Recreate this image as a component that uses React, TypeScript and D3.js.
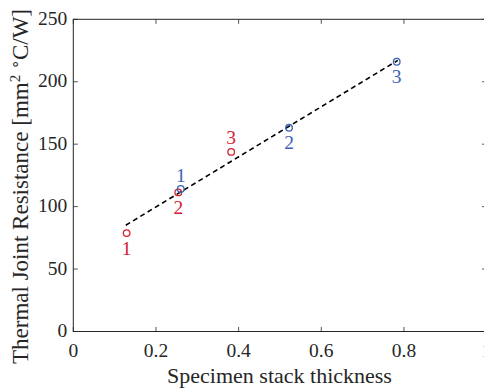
import React from "react";
import * as d3 from "d3";

const redX = [0.129, 0.254, 0.382];
const redY = [78.8, 111.4, 143.8];
const redLabels = ["1", "2", "3"];
const redAbove = [false, false, true];

const blueX = [0.26, 0.522, 0.7825];
const blueY = [114.1, 163.1, 216];
const blueLabels = ["1", "2", "3"];
const blueAbove = [true, false, false];

const fitX = [0.127, 0.785];
const fitY = [85.1, 217.1];

const xTicks = [0, 0.2, 0.4, 0.6, 0.8, 1];
const yTicks = [0, 50, 100, 150, 200, 250];

const RED = "#d42132";
const BLUE = "#3d62b3";
const FONT = "'Liberation Serif', 'Times New Roman', serif";

export default function App() {
  const W = 484, H = 390;
  const L = 73.3, R = 486.6, T = 19.3, B = 331.5;
  const x = d3.scaleLinear().domain([0, 1]).range([L, R]);
  const y = d3.scaleLinear().domain([0, 250]).range([B, T]);
  const line = d3.line<[number, number]>().x(d => x(d[0])).y(d => y(d[1]));
  const fitPts: [number, number][] = fitX.map((v, i) => [v, fitY[i]]);
  const tl = 4.5;
  const axisColor = "#262626";

  const series = [
    { xs: redX, ys: redY, labels: redLabels, above: redAbove, color: RED },
    { xs: blueX, ys: blueY, labels: blueLabels, above: blueAbove, color: BLUE },
  ];

  return (
    <svg width={W} height={H} style={{ position: "absolute", left: 0, top: 0, background: "#fff" }}>
      <rect x={0} y={0} width={W} height={H} fill="#fff" />
      {xTicks.map(t => (
        <g key={"xt" + t}>
          <line x1={x(t)} x2={x(t)} y1={B} y2={B - tl} stroke={axisColor} strokeWidth={0.8} />
          <line x1={x(t)} x2={x(t)} y1={T} y2={T + tl} stroke={axisColor} strokeWidth={0.8} />
          <text x={x(t)} y={357} textAnchor="middle" fontFamily={FONT} fontSize={19.5} fill="#262626">{String(t)}</text>
        </g>
      ))}
      {yTicks.map(t => (
        <g key={"yt" + t}>
          <line x1={L} x2={L + tl} y1={y(t)} y2={y(t)} stroke={axisColor} strokeWidth={0.8} />
          <line x1={R} x2={R - tl} y1={y(t)} y2={y(t)} stroke={axisColor} strokeWidth={0.8} />
          <text x={L - 6} y={y(t) + 5.5} textAnchor="end" fontFamily={FONT} fontSize={19.5} fill="#262626">{String(t)}</text>
        </g>
      ))}
      <rect x={L} y={T} width={R - L} height={B - T} fill="none" stroke={axisColor} strokeWidth={1} />
      <path d={line(fitPts) || ""} fill="none" stroke="#000" strokeWidth={1.6} strokeDasharray="5,3.5" />
      {series.map((s, si) => (
        <g key={"s" + si}>
          {s.xs.map((v, i) => (
            <g key={i}>
              <circle cx={x(v)} cy={y(s.ys[i])} r={3.3} fill="none" stroke={s.color} strokeWidth={1.3} />
              <text x={x(v)} y={y(s.ys[i]) + (s.above[i] ? -7.5 : 21.5)} textAnchor="middle"
                fontFamily={FONT} fontSize={19.5} fill={s.color}>{s.labels[i]}</text>
            </g>
          ))}
        </g>
      ))}
      <text x={279.5} y={382.5} textAnchor="middle" fontFamily={FONT} fontSize={22} fill="#262626">Specimen stack thickness</text>
      <text transform={`translate(28, 186.5) rotate(-90)`} textAnchor="middle" fontFamily={FONT} fontSize={23} fill="#262626">
        Thermal Joint Resistance [mm<tspan baselineShift="super" fontSize={15}>2</tspan> <tspan baselineShift="super" fontSize={15}>∘</tspan>C/W]
      </text>
    </svg>
  );
}
